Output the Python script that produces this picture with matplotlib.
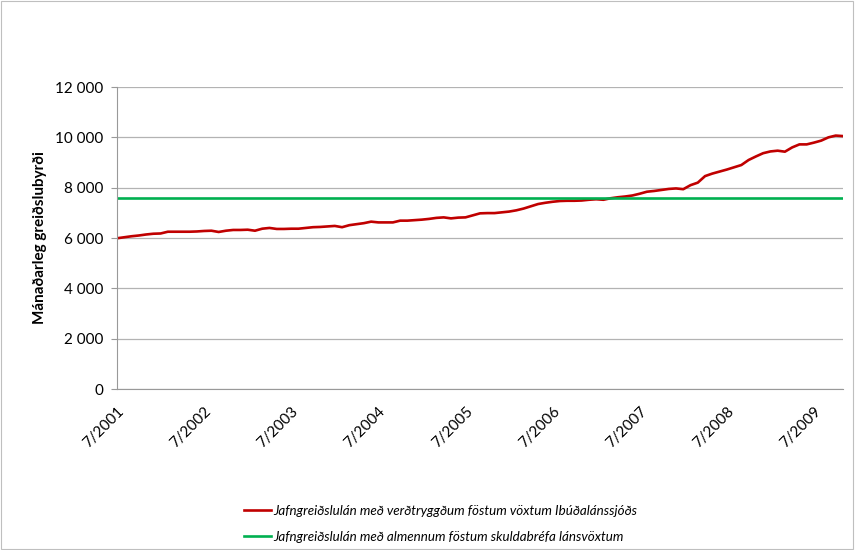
import numpy as np
import matplotlib.pyplot as plt
from matplotlib.ticker import FuncFormatter
from matplotlib.patches import Rectangle

plt.rcParams['font.family'] = ['Lato', 'DejaVu Sans']

# Monthly payment, 7/2001 - 11/2009
indexed_payment = [
    5990, 6030, 6070, 6100, 6140, 6170, 6180, 6250, 6250, 6250,
    6250, 6260, 6280, 6290, 6240, 6290, 6320, 6320, 6330, 6290,
    6370, 6400, 6360, 6360, 6370, 6370, 6400, 6430, 6440, 6460,
    6480, 6430, 6510, 6550, 6590, 6650, 6620, 6620, 6620, 6690,
    6690, 6710, 6730, 6760, 6800, 6820, 6780, 6810, 6820, 6900,
    6980, 6990, 6990, 7020, 7050, 7100, 7170, 7260, 7350, 7400,
    7440, 7470, 7480, 7480, 7490, 7520, 7540, 7520, 7580, 7620,
    7650, 7690, 7760, 7840, 7870, 7910, 7950, 7970, 7940, 8100,
    8200, 8460, 8560, 8640, 8720, 8810, 8900, 9100, 9240, 9370,
    9440, 9470, 9430, 9600, 9720, 9720, 9790, 9870, 10000, 10070,
    10050,
]
fixed_payment = 7580

tick_labels = ['7/2001', '7/2002', '7/2003', '7/2004', '7/2005',
               '7/2006', '7/2007', '7/2008', '7/2009']

label_red = 'Jafngreiðslulán með verðtryggðum föstum vöxtum Ibúðalánssjóðs'
label_green = 'Jafngreiðslulán með almennum föstum skuldabréfa lánsvöxtum'

x = np.arange(len(indexed_payment))

fig = plt.figure(figsize=(8.58, 5.5), dpi=100)
ax = fig.add_axes([0.1364, 0.2927, 0.8461, 0.5491])

ax.plot(x, indexed_payment, color='#C00000', lw=1.9, label=label_red)
ax.plot([x[0], x[-1]], [fixed_payment, fixed_payment], color='#00B050', lw=1.9, label=label_green)

ax.set_xlim(x[0], x[-1])
ax.set_ylim(0, 12000)
ax.set_yticks(np.arange(0, 12001, 2000))
ax.yaxis.set_major_formatter(FuncFormatter(lambda v, p: f'{int(v):,}'.replace(',', ' ')))
ax.set_xticks(np.arange(0, len(x), 12))
ax.set_xticklabels(tick_labels, rotation=45, ha='right', rotation_mode='anchor')

ax.grid(axis='y', color='#b3b3b3', lw=0.9)
ax.set_axisbelow(True)
for s in ['top', 'right']:
    ax.spines[s].set_visible(False)
for s in ['left', 'bottom']:
    ax.spines[s].set_color('#999999')
ax.tick_params(axis='y', length=4, color='#999999', labelsize=11, pad=6)
ax.tick_params(axis='x', length=0, labelsize=11, pad=11)

ax.set_ylabel('Mánaðarleg greiðslubyrði', fontsize=11, fontweight='bold', labelpad=6)

leg = fig.legend(loc='center', bbox_to_anchor=(0.514, 0.047), frameon=False,
                 prop={'style': 'italic', 'size': 9.6}, handlelength=2.0,
                 handletextpad=0.2, labelspacing=1.05)

fig.patches.append(Rectangle((0.001, 0.001), 0.993, 0.997, transform=fig.transFigure,
                             fill=False, edgecolor='#bfbfbf', lw=0.8))

fig.savefig('out.png', dpi=100)
